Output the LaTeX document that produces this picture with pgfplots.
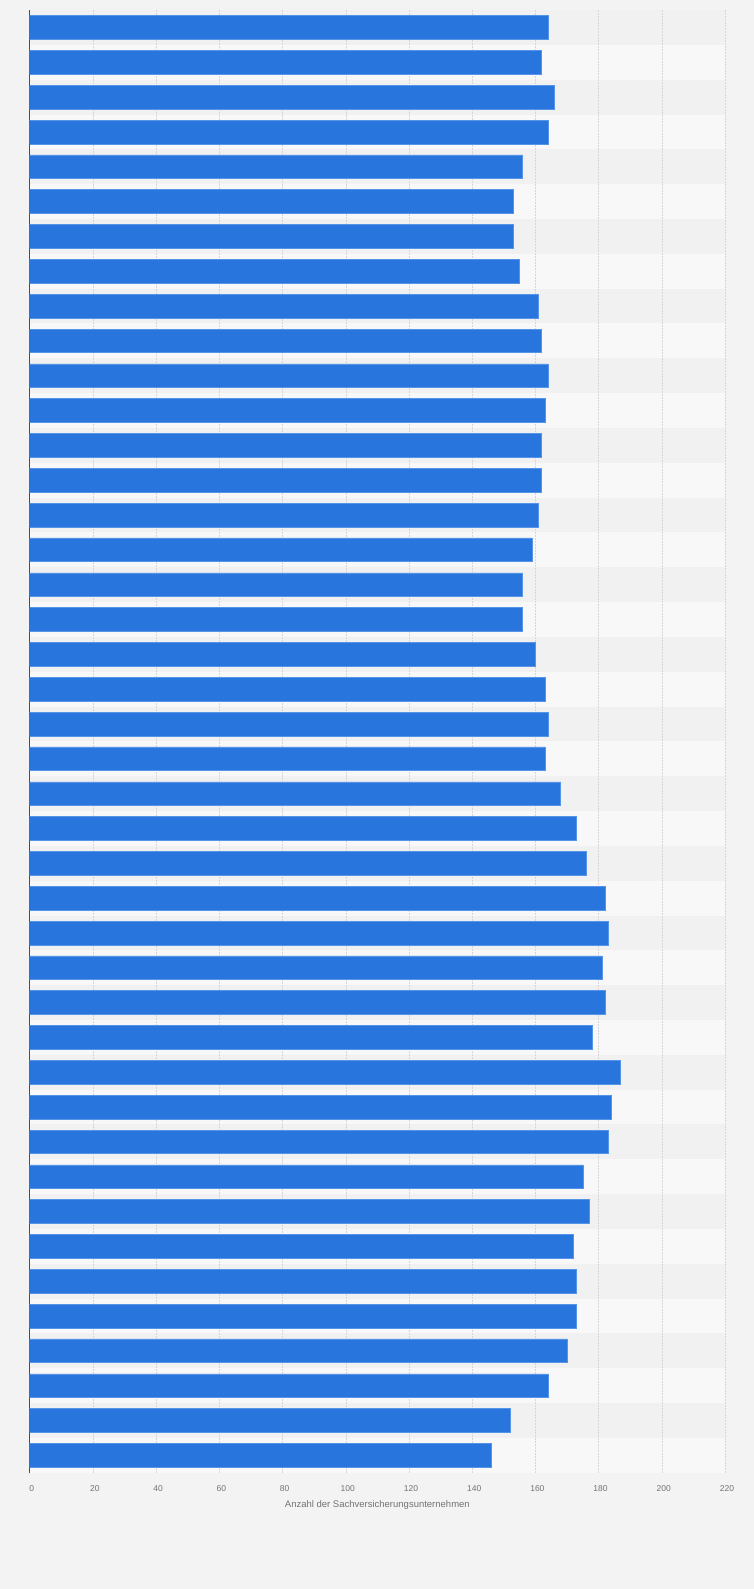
\documentclass[border=0pt]{standalone}
\usepackage{pgfplots}
\pgfplotsset{compat=1.18}
\usepackage{pgfplotstable}
\usepackage{fontspec}
\setmainfont{Liberation Sans}

\definecolor{pagebg}{HTML}{F3F3F3}
\definecolor{bandodd}{HTML}{F1F1F1}
\definecolor{bandeven}{HTML}{F8F8F8}
\definecolor{barblue}{HTML}{2876DD}
\definecolor{baredge}{HTML}{5594E6}
\definecolor{gridgray}{HTML}{D6D6D6}
\definecolor{labelgray}{HTML}{737373}

% one row per bar, top to bottom
\pgfplotstableread{
idx value
1 164
2 162
3 166
4 164
5 156
6 153
7 153
8 155
9 161
10 162
11 164
12 163
13 162
14 162
15 161
16 159
17 156
18 156
19 160
20 163
21 164
22 163
23 168
24 173
25 176
26 182
27 183
28 181
29 182
30 178
31 187
32 184
33 183
34 175
35 177
36 172
37 173
38 173
39 170
40 164
41 152
42 146
}\counts

\pgfplotsset{
    frame/.style={
        at={(29.7pt,116.3pt)}, anchor=south west,
        scale only axis,
        width=695.3pt, height=1462.7pt,
        xmin=0, xmax=220,
        ymin=0.5, ymax=42.5,
        y dir=reverse,
    },
}

\begin{document}
\begin{tikzpicture}
\fill[pagebg] (0,0) rectangle (754pt,1589pt);

% alternating row bands
\begin{axis}[frame, hide axis]
\pgfplotsinvokeforeach{1,3,...,41}{
    \fill[bandodd] (axis cs:0,#1-0.5) rectangle (axis cs:220,#1+0.5);
}
\pgfplotsinvokeforeach{2,4,...,42}{
    \fill[bandeven] (axis cs:0,#1-0.5) rectangle (axis cs:220,#1+0.5);
}
\end{axis}

\begin{axis}[
    frame,
    xbar, bar width=0.68,
    xtick={0,20,...,220},
    ytick=\empty,
    major tick length=0pt,
    axis y line*=left,
    axis x line*=bottom,
    x axis line style={draw=none},
    y axis line style={draw=black!70, line width=1pt, -},
    xmajorgrids,
    grid style={gridgray, line width=0.5pt, dash pattern=on 1.5pt off 1.5pt},
    /pgf/number format/assume math mode=true,
    xticklabel style={font=\fontsize{8.5}{10}\selectfont, text=labelgray, yshift=-9pt, xshift=2pt},
    xlabel={Anzahl der Sachversicherungsunternehmen},
    xlabel style={font=\fontsize{9.5}{11}\selectfont, text=labelgray,
        at={(axis description cs:0.5,0)}, anchor=center, yshift=-32.3pt},
]
\addplot[fill=barblue, draw=baredge, line width=0.5pt] table[x=value, y=idx] {\counts};
\end{axis}
\end{tikzpicture}
\end{document}
